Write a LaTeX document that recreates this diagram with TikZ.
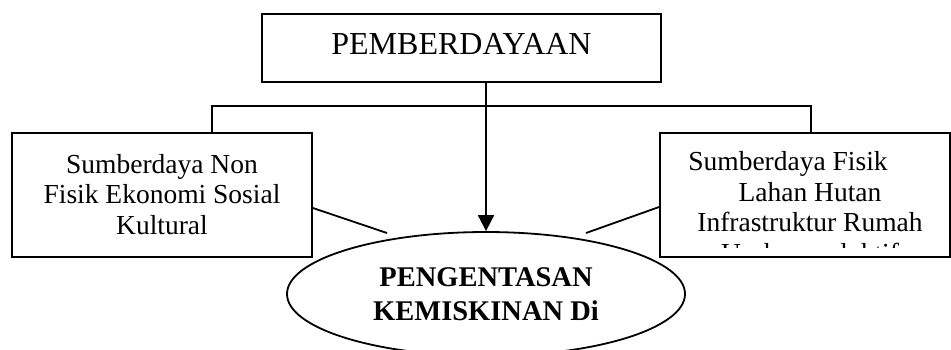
\documentclass[tikz,border=0pt]{standalone}
\usepackage{fontspec}
\setmainfont{Liberation Serif}
\usepackage{tikz}
\usetikzlibrary{shapes, arrows.meta, positioning}

\begin{document}
\begin{tikzpicture}[x=0.5pt,y=-0.5pt,>={Triangle[length=8pt,width=8pt]},line width=0.9pt,
	kotak/.style={draw,rectangle,inner sep=0pt},
	teks/.style={font=\fontsize{13.75pt}{15.25pt}\selectfont,align=center},]
	\clip (0,0) rectangle (951,349);
	\node[kotak,minimum width=199.5pt,minimum height=34pt,text depth=4pt,font=\fontsize{16pt}{17pt}\selectfont] (pemb) at (461.5,48) {PEMBERDAYAAN};
	\node[kotak,teks,minimum width=150pt,minimum height=62pt,text depth=1pt] (nonfisik) at (162,195) {Sumberdaya Non\\ Fisik Ekonomi Sosial\\ Kultural};
	\node[kotak,minimum width=145pt,minimum height=62pt] (fisik) at (805,195) {};
	\begin{scope}
		\clip (fisik.north west) rectangle ([yshift=5pt]fisik.south east);
		\node[teks,anchor=base] (fisikteks) at (810,262) {Sumberdaya Fisik\hspace*{22pt}\\ Lahan Hutan\\ Infrastruktur Rumah\\ Usaha produktif};
	\end{scope}
	\node[ellipse,draw,minimum width=199pt,minimum height=62pt,inner sep=0pt,align=center,font=\bfseries\fontsize{14.25pt}{17pt}\selectfont] (miskin) at (486,294) {PENGENTASAN\\ KEMISKINAN Di};
	\coordinate (lujung) at (387,233);
	\coordinate (rujung) at (586,233);

	\draw[->] (pemb.south -| miskin.north) -- (miskin.north);
	\draw ([xshift=25pt]nonfisik.north) -- ++(0,-26) -| ([xshift=3pt]fisik.north);
	\draw ([yshift=-6.5pt]nonfisik.east) -- (lujung);
	\draw ([yshift=-6pt]fisik.west) -- (rujung);
\end{tikzpicture}
\end{document}
